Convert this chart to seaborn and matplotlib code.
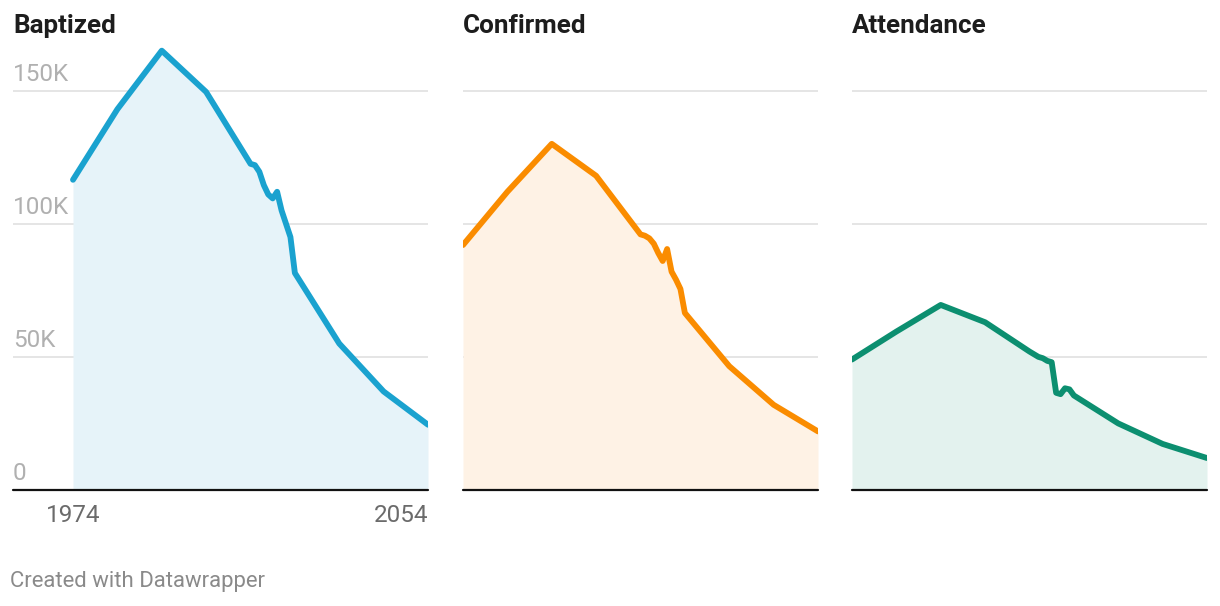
import matplotlib
matplotlib.use("Agg")
import matplotlib.pyplot as plt
import seaborn as sns
import pandas as pd

sns.set_theme(style="white")
plt.rcParams["font.family"] = ["Roboto", "DejaVu Sans"]

# values in thousands
years = [1974, 1984, 1994, 2004, 2014, 2015, 2016, 2017, 2018, 2019,
         2020, 2021, 2022, 2023, 2024, 2034, 2044, 2054]
baptized = [116.5, 143, 165, 149.5, 122.5, 122, 119.5, 114.5, 111, 109.5,
            112, 105, 100, 95, 81.5, 55, 37, 24.5]
confirmed = [92, 112, 130, 118, 96, 95.5, 94.5, 92.5, 89, 86,
             90.5, 82, 79, 75.5, 66.5, 46.5, 32, 22]
attendance = [49, 59.5, 69.5, 63, 52, 51, 50, 49.5, 48.5, 48,
              36.5, 36, 38.2, 37.8, 35.5, 25, 17.3, 12]

titles = ["Baptized", "Confirmed", "Attendance"]
line_colors = ["#1aa2cf", "#fa8c00", "#0c8f70"]
fill_colors = ["#e6f3f9", "#fef2e5", "#e3f2ee"]
grid_vals = [50, 100, 150]
ytick_labels = ["0", "50K", "100K", "150K"]

df = pd.DataFrame({"year": years, "Baptized": baptized,
                   "Confirmed": confirmed, "Attendance": attendance})

W, H = 1220, 606
fig = plt.figure(figsize=(W / 100, H / 100), dpi=100)

# panel pixel extents: (left, right)
panels = [(13, 428), (463, 818), (852, 1207)]
top_px, bottom_px = 40, 490

for i, (name, (l, r)) in enumerate(zip(titles, panels)):
    ax = fig.add_axes([l / W, 1 - bottom_px / H, (r - l) / W, (bottom_px - top_px) / H])
    for s in ax.spines.values():
        s.set_visible(False)

    for g in grid_vals:
        ax.axhline(g, color="#e3e3e3", lw=1.3, zorder=0)

    ax.fill_between(df["year"], df[name], color=fill_colors[i], lw=0, zorder=1)
    sns.lineplot(data=df, x="year", y=name, ax=ax, color=line_colors[i], lw=4.2,
                 solid_capstyle="round", solid_joinstyle="round", zorder=3)
    ax.axhline(0, color="#111111", lw=1.6, zorder=4, clip_on=False)

    if i == 0:
        ax.set_xlim(1974 - 60 / 4.4375, 2054)
    else:
        ax.set_xlim(1974, 2054)
    ax.set_ylim(0, 169)
    ax.set_xlabel("")
    ax.set_ylabel("")
    ax.set_yticks([])

    if i == 0:
        for v, lab in zip([0] + grid_vals, ytick_labels):
            ax.annotate(lab, xy=(0, v), xycoords=("axes fraction", "data"),
                        xytext=(0, 10), textcoords="offset pixels",
                        ha="left", va="baseline", fontsize=17.5, color="#b0b0b0")
        ax.set_xticks([1974, 2054])
        ax.set_xticklabels(["1974", "2054"])
        ax.tick_params(axis="x", length=0, pad=10, labelsize=17.5, labelcolor="#6b6b6b")
        ax.get_xticklabels()[-1].set_horizontalalignment("right")
    else:
        ax.set_xticks([])

    fig.text(l / W, 1 - 26 / H, name, ha="left", va="center",
             fontsize=18.7, fontweight="bold", color="#1d1d1d")

fig.text(10 / W, 1 - 582 / H, "Created with Datawrapper", ha="left", va="center",
         fontsize=15.9, color="#8a8a8a")

fig.savefig("out.png", dpi=100)
